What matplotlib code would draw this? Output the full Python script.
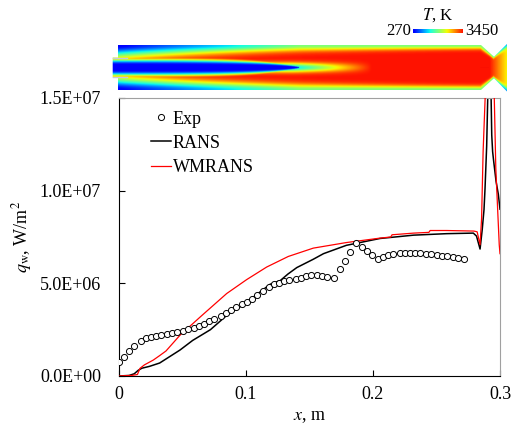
import numpy as np
import matplotlib
matplotlib.use("Agg")
import matplotlib.pyplot as plt
from matplotlib.patches import Polygon
from matplotlib.ticker import FuncFormatter

plt.rcParams['font.family'] = ['Liberation Serif', 'DejaVu Serif']
plt.rcParams['mathtext.fontset'] = 'stix'

# Experimental heat flux (x in m, q in 1e6 W/m2)
exp_x = [0.000, 0.004, 0.008, 0.012, 0.017, 0.021, 0.025, 0.029, 0.033, 0.038,
         0.042, 0.046, 0.050, 0.054, 0.059, 0.063, 0.067, 0.071, 0.075, 0.080,
         0.084, 0.088, 0.092, 0.097, 0.101, 0.105, 0.109, 0.113, 0.118, 0.122,
         0.126, 0.130, 0.134, 0.139, 0.143, 0.147, 0.151, 0.156, 0.160, 0.164,
         0.169, 0.174, 0.178, 0.182, 0.187, 0.191, 0.195, 0.199, 0.204, 0.208,
         0.212, 0.216, 0.221, 0.225, 0.229, 0.233, 0.237, 0.242, 0.246, 0.250,
         0.254, 0.258, 0.263, 0.267, 0.272]
exp_q = [0.77, 1.04, 1.35, 1.62, 1.91, 2.04, 2.09, 2.15, 2.21, 2.27,
         2.33, 2.39, 2.45, 2.52, 2.60, 2.70, 2.82, 2.95, 3.08, 3.22,
         3.38, 3.58, 3.75, 3.88, 4.00, 4.16, 4.36, 4.58, 4.80, 4.95,
         5.04, 5.11, 5.17, 5.23, 5.30, 5.38, 5.45, 5.43, 5.38, 5.34,
         5.29, 5.77, 6.23, 6.69, 7.17, 6.96, 6.72, 6.52, 6.31, 6.42,
         6.52, 6.60, 6.63, 6.64, 6.64, 6.64, 6.63, 6.60, 6.57, 6.53,
         6.50, 6.46, 6.41, 6.35, 6.31]

# RANS
rans_x = [0.000, 0.008, 0.012, 0.015, 0.018, 0.024, 0.032, 0.040, 0.048, 0.058,
          0.072, 0.085, 0.098, 0.106, 0.119, 0.127, 0.133, 0.140, 0.153, 0.161,
          0.179, 0.2055, 0.232, 0.258, 0.279, 0.2815, 0.2843, 0.2860, 0.2874, 0.2882,
          0.2895, 0.2905, 0.2915, 0.2925, 0.2935, 0.2942, 0.2950, 0.2969, 0.2987, 0.3000]
rans_q = [0.00, 0.03, 0.12, 0.30, 0.42, 0.52, 0.70, 1.05, 1.40, 1.92,
          2.50, 3.28, 3.85, 4.27, 4.95, 5.15, 5.50, 5.85, 6.30, 6.60,
          7.05, 7.42, 7.60, 7.68, 7.71, 7.55, 6.85, 7.90, 8.97, 10.1,
          12.4, 15.5, 17.0, 17.0, 13.0, 12.1, 11.6, 10.5, 9.8, 9.0]

# WMRANS
wm_x = [0.000, 0.010, 0.0145, 0.0165, 0.020, 0.027, 0.032, 0.037, 0.048, 0.065,
        0.0848, 0.1005, 0.1163, 0.1333, 0.153, 0.179, 0.2055, 0.2140, 0.2150, 0.232,
        0.244, 0.245, 0.258, 0.2795, 0.2820, 0.2843, 0.2855, 0.2867, 0.2883, 0.2900,
        0.2930, 0.2955, 0.2967, 0.2994, 0.3000]
wm_q = [0.00, 0.03, 0.08, 0.41, 0.60, 0.86, 1.10, 1.35, 2.20, 3.25,
        4.45, 5.20, 5.88, 6.45, 6.90, 7.20, 7.44, 7.50, 7.62, 7.71,
        7.75, 7.85, 7.85, 7.82, 7.78, 7.08, 8.5, 12.1, 15.0, 17.0,
        17.0, 15.0, 11.2, 7.08, 6.6]

x_ticks = [0, 0.1, 0.2, 0.3]
y_ticks = [0, 5e6, 1e7, 1.5e7]
t_min, t_max = 270, 3450

fig = plt.figure(figsize=(5.12, 4.32), dpi=100)
W, H = 512, 432

# main plot
ax = fig.add_axes([119 / W, (H - 376) / H, 381 / W, 278 / H])
ax.plot(rans_x, np.array(rans_q) * 1e6, color='black', lw=1.1, label='RANS', zorder=2)
ax.plot(wm_x, np.array(wm_q) * 1e6, color='red', lw=0.9, label='WMRANS', zorder=3)
ax.plot(exp_x, np.array(exp_q) * 1e6, 'o', ms=4.4, mfc='white', mec='black', mew=0.7,
        label='Exp', zorder=4)
ax.set_xlim(0, 0.3)
ax.set_ylim(0, 1.5e7)
ax.set_xticks(x_ticks)
ax.set_xticklabels([f"{v:g}" for v in x_ticks])
ax.set_yticks(y_ticks)
ax.yaxis.set_major_formatter(FuncFormatter(lambda v, p: f"{v:.1E}"))
ax.tick_params(direction='in', length=4, width=0.8, labelsize=13, top=False, right=False)
ax.tick_params(axis='y', pad=13)
ax.tick_params(axis='x', pad=7)
for side in ['top', 'right']:
    ax.spines[side].set_color('#a0a0a0')
for side in ['left', 'bottom']:
    ax.spines[side].set_color('black')
ax.set_xlabel('$x$, m', fontsize=13, labelpad=4)
ax.set_ylabel('$q_\\mathrm{w}$, W/m$^2$', fontsize=13, labelpad=4)
h, l = ax.get_legend_handles_labels()
order = [2, 0, 1]
ax.legend([h[i] for i in order], [l[i] for i in order], loc='upper left',
          bbox_to_anchor=(0.084, 0.955), frameon=False, fontsize=13,
          handlelength=1.1, handletextpad=0.1, labelspacing=0.4,
          borderpad=0, borderaxespad=0)

# temperature field of the chamber (sketch of the inset picture)
axi = fig.add_axes([108 / W, (H - 95) / H, 404 / W, 55 / H])
axi.set_xlim(108, 512)
axi.set_ylim(95, 40)
axi.axis('off')

gx = np.linspace(112, 508, 400)
gy = np.linspace(43, 92, 100)
X, Y = np.meshgrid(gx, gy)
half = np.interp(X, [0, 481, 494, 507, 600], [22.5, 22.5, 11, 24, 24])
r = np.abs(Y - 67.5) / half
s = (X - 118) / (481 - 118)
# cold oxidiser core, blunt rounded tip
a = 0.36 * np.clip(1 - (s / 0.5) ** 3, 0, 1) ** 0.6
core = np.exp(-(r / np.maximum(a, 1e-3)) ** 4)
# warm plume behind the tip
plume = np.clip((0.7 - s) / 0.22, 0, 1) * 0.72 * np.exp(-(r / 0.2) ** 2)
# cool layer along the wall
b = 0.42 * np.exp(-s / 0.45) + 0.12
B = 1 - 0.5 * np.clip(s / 0.5, 0, 1)
wall = B * np.exp(-((1 - r) / b) ** 2)
T = 1 - np.maximum(np.maximum(core, plume), wall)
T = T - 0.3 * np.clip((X - 490) / 17, 0, 1)
im = axi.imshow(T, extent=(112, 508, 92, 43), cmap='jet', vmin=-0.14, vmax=1.14,
                aspect='auto', interpolation='bilinear')
shape = Polygon([(118, 45), (481, 45), (494, 56.7), (507, 44), (507, 91.5),
                 (494, 78.3), (481, 90), (118, 90), (118, 77.5), (112.7, 77.5),
                 (112.7, 57.5), (118, 57.5)], closed=True, transform=axi.transData)
im.set_clip_path(shape)
axi.plot([112.7, 127], [57.8, 57.8], color='#c8c8dc', lw=1)
axi.plot([112.7, 127], [77.2, 77.2], color='#c8c8dc', lw=1)

# colour bar
axc = fig.add_axes([413 / W, (H - 33.5) / H, 50 / W, 5 / H])
axc.imshow(np.linspace(0, 1, 200)[None, :], cmap='jet', vmin=-0.14, vmax=1.14, aspect='auto')
axc.set_xticks([])
axc.set_yticks([])
for sp in axc.spines.values():
    sp.set_visible(False)
fig.text(411 / W, 1 - 31 / H, str(t_min), ha='right', va='center', fontsize=12)
fig.text(465 / W, 1 - 31 / H, str(t_max), ha='left', va='center', fontsize=12)
fig.text(438 / W, 1 - 15 / H, '$T$, K', ha='center', va='center', fontsize=12)

fig.savefig('out.png', dpi=100)
